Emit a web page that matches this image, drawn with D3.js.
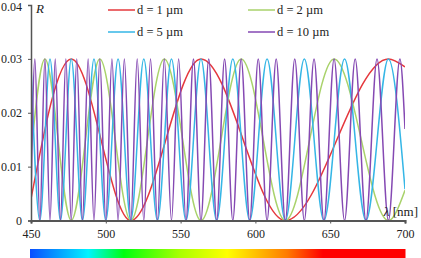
<!DOCTYPE html>
<html>
<head>
<meta charset="utf-8">
<title>Reflectance</title>
<script src="https://d3js.org/d3.v7.min.js"></script>
<style>
  body { margin: 0; background: #fff; }
  text { font-family: "Liberation Serif", "Times New Roman", serif; fill: #222; }
</style>
</head>
<body>
<svg id="chart" width="421" height="258"></svg>
<script>
var wl1 = [450, 476.9, 516.7, 563.6, 620, 688.9, 700]
var r1  = [0.004, 0.030, 0, 0.030, 0, 0.030, 0.0285]

var wl2 = [450, 459.3, 476.9, 496, 516.7, 539.1, 563.6, 590.5, 620, 652.6, 688.9, 700]
var r2  = [0.0124, 0.030, 0, 0.030, 0, 0.030, 0, 0.030, 0, 0.030, 0, 0.0056]

var wl5 = [450, 455.9, 462.7, 469.7, 476.9, 484.4, 492.1, 500, 508.2, 516.7, 525.4, 534.5,
           543.9, 553.6, 563.6, 574.1, 584.9, 596.2, 607.8, 620, 632.7, 645.8, 659.6, 673.9, 688.9, 700]
var r5  = [0.029, 0, 0.030, 0, 0.030, 0, 0.030, 0, 0.030, 0, 0.030, 0,
           0.030, 0, 0.030, 0, 0.030, 0, 0.030, 0, 0.030, 0, 0.030, 0, 0.030, 0.0058]

var wl10 = [450, 452.6, 455.9, 459.3, 462.7, 466.2, 469.7, 473.3, 476.9, 480.6, 484.4, 488.2,
            492.1, 496, 500, 504.1, 508.2, 512.4, 516.7, 521, 525.4, 529.9, 534.5, 539.1,
            543.9, 548.7, 553.6, 558.6, 563.6, 568.8, 574.1, 579.4, 584.9, 590.5, 596.2, 601.9,
            607.8, 613.9, 620, 626.3, 632.7, 639.2, 645.8, 652.6, 659.6, 666.7, 673.9, 681.3,
            688.9, 696.6, 700]
var r10  = [0.0035, 0.030, 0, 0.030, 0, 0.030, 0, 0.030, 0, 0.030, 0, 0.030,
            0, 0.030, 0, 0.030, 0, 0.030, 0, 0.030, 0, 0.030, 0, 0.030,
            0, 0.030, 0, 0.030, 0, 0.030, 0, 0.030, 0, 0.030, 0, 0.030,
            0, 0.030, 0, 0.030, 0, 0.030, 0, 0.030, 0, 0.030, 0, 0.030,
            0, 0.030, 0.017]

var xTicks = [450, 500, 550, 600, 650, 700]
var yTicks = [0, 0.01, 0.02, 0.03, 0.04]
var yTickLabels = ['0', '0.01', '0.02', '0.03', '0.04']

var series = [
  { name: 'd = 1 µm',  wl: wl1,  r: r1,  color: '#e5383d' },
  { name: 'd = 2 µm',  wl: wl2,  r: r2,  color: '#a9d26b' },
  { name: 'd = 5 µm',  wl: wl5,  r: r5,  color: '#35b6e6' },
  { name: 'd = 10 µm', wl: wl10, r: r10, color: '#8549b3' }
]

var svg = d3.select('#chart')
var xScale = d3.scaleLinear().domain([450, 700]).range([31, 405])
var yScale = d3.scaleLinear().domain([0, 0.04]).range([220.5, 5])

svg.append('defs').append('clipPath').attr('id', 'plot')
  .append('rect').attr('x', 31).attr('y', 0).attr('width', 374).attr('height', 222)

// curves
var line = d3.line()
  .x(function (d) { return xScale(d[0]) })
  .y(function (d) { return yScale(d[1]) })
  .curve(d3.curveMonotoneX)

svg.append('g').attr('clip-path', 'url(#plot)')
  .selectAll('path')
  .data(series)
  .enter()
  .append('path')
    .attr('d', function (s) { return line(s.wl.map(function (w, i) { return [w, s.r[i]] })) })
    .attr('fill', 'none')
    .attr('stroke', function (s) { return s.color })
    .attr('stroke-width', 1.5)

// y axis
var yAxis = d3.axisLeft(yScale).tickValues(yTicks)
  .tickFormat(function (d, i) { return yTickLabels[i] })
  .tickSize(3).tickPadding(6)
var gy = svg.append('g').attr('transform', 'translate(31,0)').call(yAxis)
  .attr('font-family', null)
gy.select('.domain').attr('stroke', '#555').attr('stroke-width', 1.5)
gy.selectAll('.tick line').attr('stroke', '#555')
gy.selectAll('text').style('font-size', '12px').attr('fill', '#222')
// keep the top label inside the picture
gy.selectAll('text').filter(function (d) { return d === 0.04 }).attr('y', 1.5)

// x axis
var xAxis = d3.axisBottom(xScale).tickValues(xTicks).tickSize(3).tickPadding(6)
var gx = svg.append('g').attr('transform', 'translate(0,220.5)').call(xAxis)
  .attr('font-family', null)
gx.select('.domain').attr('stroke', '#555').attr('stroke-width', 2.2)
gx.selectAll('.tick line').attr('stroke', '#555')
gx.selectAll('text').style('font-size', '12px').attr('fill', '#222')

// axis labels
svg.append('text').attr('x', 36).attr('y', 13)
  .style('font-size', '13px').style('font-style', 'italic').text('R')
var xl = svg.append('text').attr('x', 418).attr('y', 216)
  .style('font-size', '13px').style('text-anchor', 'end')
xl.append('tspan').style('font-style', 'italic').text('λ')
xl.append('tspan').text(' [nm]')

// legend
var legPos = [[108, 10], [248, 10], [108, 32], [248, 32]]
var leg = svg.append('g').selectAll('g')
  .data(series)
  .enter()
  .append('g')
    .attr('transform', function (s, i) { return 'translate(' + legPos[i][0] + ',' + legPos[i][1] + ')' })
leg.append('line').attr('x1', 0).attr('x2', 27)
  .attr('stroke', function (s) { return s.color }).attr('stroke-width', 1.5)
leg.append('text').attr('x', 29).attr('y', 4)
  .style('font-size', '12.5px').text(function (s) { return s.name })

// spectrum bar
var grad = svg.select('defs').append('linearGradient').attr('id', 'spec')
var stops = [[0, '#0a4cff'], [0.155, '#00f4ff'], [0.25, '#00ff10'], [0.4, '#aaff00'],
             [0.525, '#ffff00'], [0.685, '#ff7a00'], [0.78, '#ff0000'], [1, '#ff0000']]
grad.selectAll('stop').data(stops).enter().append('stop')
  .attr('offset', function (d) { return d[0] })
  .attr('stop-color', function (d) { return d[1] })
svg.append('rect').attr('x', 30).attr('y', 249).attr('width', 375.5).attr('height', 9)
  .attr('fill', 'url(#spec)')
</script>
</body>
</html>
